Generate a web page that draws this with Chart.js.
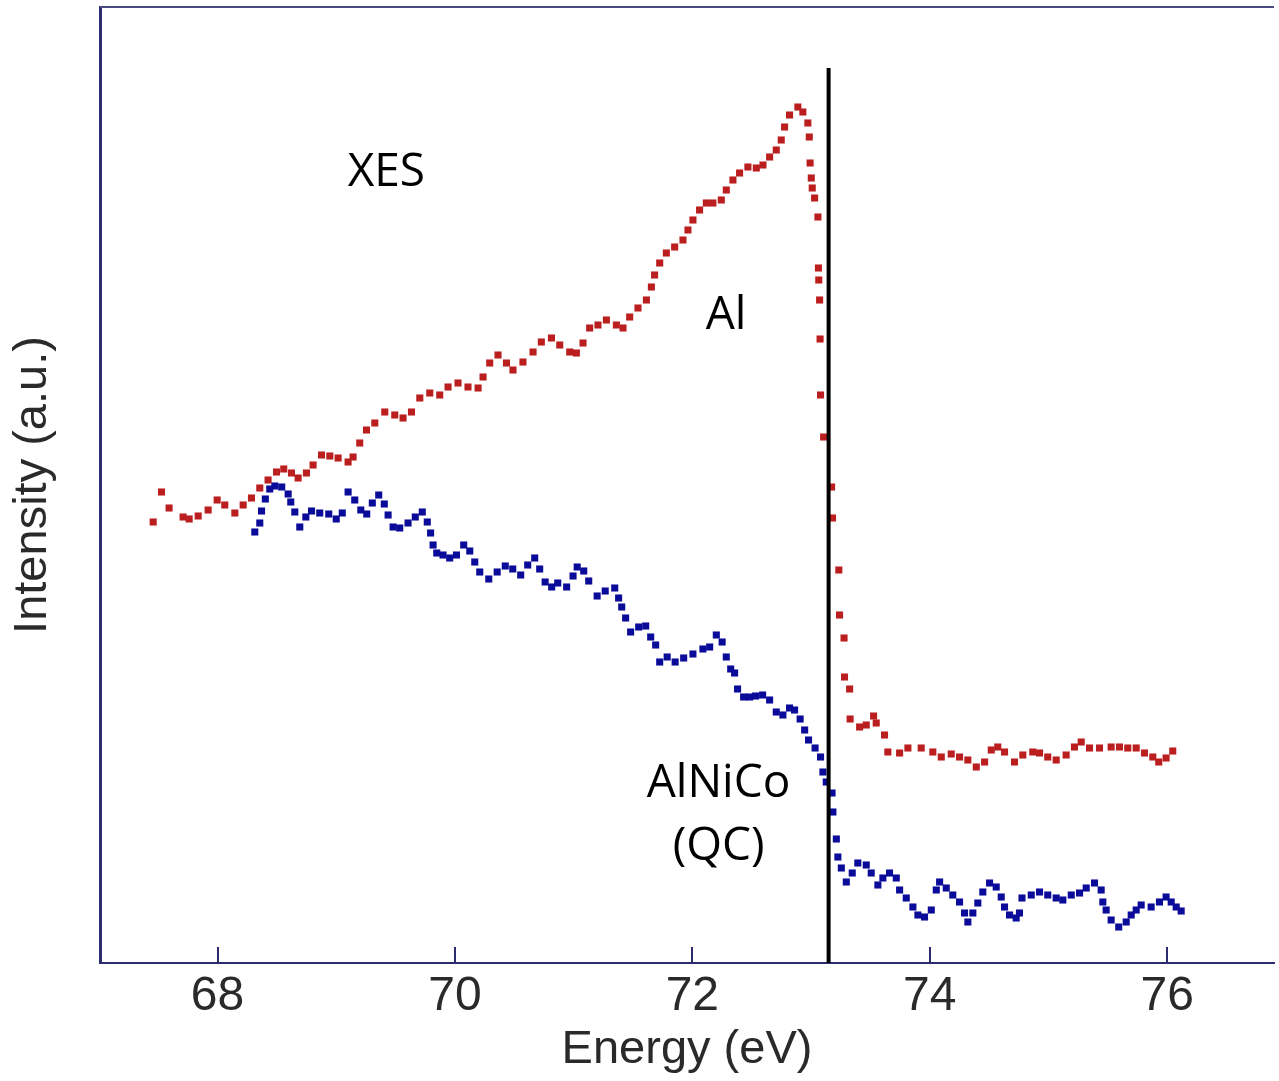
<!DOCTYPE html>
<html>
<head>
<meta charset="utf-8">
<script src="https://cdn.jsdelivr.net/npm/chart.js@4.4.1/dist/chart.umd.min.js"></script>
<style>
  html, body { margin: 0; padding: 0; background: #fff; }
  #wrap { width: 1279px; height: 1081px; }
</style>
</head>
<body>
<div id="wrap"><canvas id="xes" width="1279" height="1081"></canvas></div>
<script>
// Al XES (red) and AlNiCo QC (blue), energy in eV, intensity in a.u.
const alEnergy = [
  67.458, 67.528, 67.592, 67.710, 67.761, 67.837, 67.921, 67.997, 68.061, 68.146,
  68.216, 68.286, 68.356, 68.426, 68.497, 68.558, 68.623, 68.679, 68.749, 68.805,
  68.876, 68.946, 69.016, 69.100, 69.142, 69.198, 69.255, 69.325, 69.409, 69.493,
  69.563, 69.634, 69.704, 69.788, 69.872, 69.942, 70.026, 70.110, 70.195, 70.237,
  70.293, 70.363, 70.434, 70.489, 70.573, 70.658, 70.728, 70.813, 70.883, 70.967,
  71.023, 71.079, 71.135, 71.205, 71.276, 71.360, 71.416, 71.472, 71.542, 71.613,
  71.655, 71.682, 71.725, 71.781, 71.851, 71.921, 71.963, 72.005, 72.061, 72.118,
  72.173, 72.244, 72.286, 72.342, 72.398, 72.468, 72.539, 72.595, 72.651, 72.707,
  72.749, 72.777, 72.819, 72.889, 72.931, 72.973, 72.985, 72.992, 73.002, 73.010,
  73.030, 73.058, 73.062, 73.065, 73.072, 73.076, 73.080, 73.106, 73.173, 73.181,
  73.234, 73.240, 73.278, 73.282, 73.325, 73.329, 73.409, 73.465, 73.527, 73.549,
  73.619, 73.647, 73.746, 73.816, 73.928, 74.026, 74.097, 74.181, 74.251, 74.321,
  74.392, 74.462, 74.518, 74.573, 74.630, 74.714, 74.784, 74.868, 74.925, 74.994,
  75.065, 75.149, 75.219, 75.276, 75.346, 75.430, 75.528, 75.598, 75.668, 75.739,
  75.809, 75.879, 75.929, 75.991, 76.047
];
const alIntensity = [
  44.1, 47.1, 45.5, 44.6, 44.4, 44.7, 45.3, 46.3, 45.8, 45.0,
  45.8, 46.5, 47.5, 48.3, 49.1, 49.4, 49.0, 48.5, 49.0, 49.8,
  50.8, 50.7, 50.5, 50.1, 50.6, 52.0, 53.3, 54.0, 55.1, 54.8,
  54.5, 55.1, 56.5, 57.0, 56.8, 57.6, 58.0, 57.6, 57.5, 58.6,
  60.0, 60.8, 60.0, 59.3, 60.1, 61.1, 62.1, 62.5, 61.8, 61.1,
  61.0, 62.0, 63.5, 63.8, 64.3, 63.8, 63.5, 64.6, 65.5, 66.3,
  67.6, 68.8, 70.0, 71.0, 71.6, 72.3, 73.3, 74.3, 75.3, 76.0,
  76.0, 76.3, 77.3, 78.3, 79.0, 79.6, 79.5, 79.8, 80.6, 81.3,
  82.3, 83.6, 84.8, 85.6, 85.1, 84.0, 82.6, 80.0, 78.5, 77.5,
  76.5, 74.6, 69.5, 68.3, 66.3, 62.4, 56.8, 52.6, 47.6, 44.5,
  39.3, 34.8, 32.5, 28.6, 27.4, 24.4, 23.6, 23.8, 24.7, 24.0,
  22.8, 21.1, 21.0, 21.5, 21.5, 21.1, 20.6, 20.9, 20.6, 20.3,
  19.6, 20.1, 21.3, 21.6, 21.1, 20.1, 20.8, 21.1, 21.0, 20.6,
  20.3, 20.8, 21.6, 22.1, 21.5, 21.5, 21.6, 21.6, 21.5, 21.5,
  21.0, 20.6, 20.1, 20.5, 21.2
];
const qcEnergy = [
  68.314, 68.356, 68.371, 68.403, 68.440, 68.483, 68.541, 68.595, 68.617, 68.651,
  68.693, 68.744, 68.792, 68.861, 68.937, 69.000, 69.051, 69.100, 69.156, 69.207,
  69.257, 69.304, 69.358, 69.405, 69.437, 69.479, 69.535, 69.605, 69.666, 69.725,
  69.767, 69.795, 69.816, 69.847, 69.900, 69.956, 70.013, 70.074, 70.125, 70.167,
  70.209, 70.285, 70.356, 70.424, 70.487, 70.554, 70.613, 70.672, 70.714, 70.760,
  70.815, 70.866, 70.941, 70.995, 71.030, 71.085, 71.127, 71.198, 71.266, 71.346,
  71.379, 71.405, 71.438, 71.480, 71.548, 71.607, 71.649, 71.691, 71.725, 71.788,
  71.855, 71.927, 72.005, 72.089, 72.146, 72.202, 72.251, 72.286, 72.323, 72.356,
  72.381, 72.432, 72.483, 72.533, 72.592, 72.651, 72.707, 72.763, 72.819, 72.861,
  72.908, 72.946, 72.979, 73.034, 73.080, 73.100, 73.128, 73.177, 73.184, 73.213,
  73.226, 73.255, 73.297, 73.347, 73.394, 73.465, 73.507, 73.563, 73.605, 73.661,
  73.718, 73.746, 73.802, 73.858, 73.900, 73.956, 74.013, 74.055, 74.083, 74.139,
  74.194, 74.251, 74.293, 74.321, 74.363, 74.405, 74.447, 74.504, 74.560, 74.602,
  74.630, 74.672, 74.728, 74.756, 74.777, 74.855, 74.925, 74.994, 75.065, 75.121,
  75.192, 75.262, 75.318, 75.388, 75.444, 75.458, 75.486, 75.528, 75.592, 75.655,
  75.697, 75.739, 75.781, 75.865, 75.935, 75.991, 76.034, 76.076, 76.118
];
const qcIntensity = [
  43.1, 44.0, 45.2, 46.4, 47.4, 47.7, 47.6, 46.9, 46.1, 45.1,
  43.6, 44.6, 45.2, 45.0, 44.9, 44.4, 45.0, 47.1, 46.3, 45.3,
  44.9, 46.0, 46.8, 45.9, 44.8, 43.6, 43.5, 44.0, 44.6, 45.1,
  44.1, 43.0, 41.8, 41.0, 40.8, 40.5, 40.8, 41.8, 41.2, 40.1,
  39.1, 38.4, 39.1, 39.7, 39.4, 38.8, 39.8, 40.5, 39.4, 38.1,
  37.6, 38.0, 37.6, 38.7, 39.6, 39.2, 38.2, 36.7, 37.2, 37.5,
  36.5, 35.6, 34.5, 33.1, 33.6, 33.7, 32.6, 31.8, 30.1, 30.6,
  30.1, 30.5, 30.9, 31.4, 31.6, 32.8, 32.1, 30.6, 29.4, 29.0,
  27.4, 26.6, 26.6, 26.7, 26.8, 26.3, 25.1, 24.8, 25.5, 25.3,
  24.4, 23.3, 22.3, 21.5, 20.6, 19.1, 18.1, 17.0, 15.1, 12.4,
  10.6, 9.5, 8.1, 9.0, 10.0, 9.8, 9.0, 7.8, 8.5, 9.0,
  8.5, 7.3, 6.5, 5.6, 4.8, 4.6, 5.3, 7.3, 8.1, 7.5,
  6.8, 6.1, 5.0, 4.1, 5.0, 6.0, 7.1, 8.0, 7.6, 6.6,
  5.6, 4.8, 4.5, 5.0, 6.5, 6.8, 7.1, 6.8, 6.5, 6.3,
  6.8, 7.0, 7.5, 8.0, 7.3, 6.1, 5.3, 4.3, 3.6, 4.1,
  4.8, 5.3, 5.8, 5.6, 6.1, 6.6, 6.1, 5.6, 5.2
];
const xTicks = [68, 70, 72, 74, 76];

// Fermi edge marker and text labels (data units)
const edgeEnergy = 73.148;
const edgeTop = 89.5;
const labels = [
  { text: "XES", x: 69.097, y: 77.7, align: "left" },
  { text: "Al", x: 72.112, y: 63.4, align: "left" },
  { text: "AlNiCo", x: 72.221, y: 16.6, align: "center" },
  { text: "(QC)", x: 72.221, y: 10.3, align: "center" }
];

const axisColor = "#2c2c6e";
const textColor = "#2a2a2a";

function toPoints(xs, ys) {
  return xs.map((x, i) => ({ x: x, y: ys[i] }));
}

// tick marks inside the frame, top border, edge line and labels
const decor = {
  id: "decor",
  afterDatasetsDraw(chart) {
    const { ctx, chartArea, scales } = chart;
    const xs = scales.x, ys = scales.y;
    ctx.save();

    ctx.strokeStyle = "#4a4a7c";
    ctx.lineWidth = 2;
    ctx.beginPath();
    ctx.moveTo(chartArea.left, chartArea.top);
    ctx.lineTo(chartArea.right, chartArea.top);
    ctx.stroke();

    ctx.strokeStyle = axisColor;
    ctx.lineWidth = 2;
    xTicks.forEach((t) => {
      const px = Math.round(xs.getPixelForValue(t));
      ctx.beginPath();
      ctx.moveTo(px, chartArea.bottom);
      ctx.lineTo(px, chartArea.bottom - 16);
      ctx.stroke();
    });

    const ex = xs.getPixelForValue(edgeEnergy);
    ctx.strokeStyle = "#000";
    ctx.lineWidth = 4;
    ctx.beginPath();
    ctx.moveTo(ex, ys.getPixelForValue(edgeTop));
    ctx.lineTo(ex, chartArea.bottom);
    ctx.stroke();

    ctx.fillStyle = "#000";
    ctx.font = '46px "Open Sans", "Noto Sans", sans-serif';
    ctx.textBaseline = "alphabetic";
    labels.forEach((l) => {
      ctx.textAlign = l.align;
      ctx.fillText(l.text, xs.getPixelForValue(l.x), ys.getPixelForValue(l.y));
    });
    ctx.restore();
  }
};

new Chart(document.getElementById("xes"), {
  type: "scatter",
  data: {
    datasets: [
      {
        label: "Al",
        data: toPoints(alEnergy, alIntensity),
        pointStyle: "rect",
        pointRadius: 5,
        pointBorderWidth: 0,
        backgroundColor: "#bb1e1e",
        borderColor: "#bb1e1e",
        showLine: false,
        order: 1
      },
      {
        label: "AlNiCo (QC)",
        data: toPoints(qcEnergy, qcIntensity),
        pointStyle: "rect",
        pointRadius: 5,
        pointBorderWidth: 0,
        backgroundColor: "#0b0b9a",
        borderColor: "#0b0b9a",
        showLine: false,
        order: 0
      }
    ]
  },
  options: {
    responsive: false,
    animation: false,
    devicePixelRatio: 1,
    layout: { padding: { top: 7, left: 0, right: 0, bottom: 0 } },
    plugins: {
      legend: { display: false },
      tooltip: { enabled: false }
    },
    scales: {
      x: {
        type: "linear",
        min: 67.01,
        max: 76.9,
        afterBuildTicks: (scale) => {
          scale.ticks = xTicks.map((v) => ({ value: v }));
        },
        afterFit: (scale) => {
          scale.height = 118;
        },
        grid: { display: false, drawTicks: false },
        border: { display: true, color: axisColor, width: 2 },
        ticks: {
          color: textColor,
          padding: 5,
          maxRotation: 0,
          font: { family: '"Liberation Sans", Arial, sans-serif', size: 48 }
        },
        title: {
          display: true,
          text: "Energy (eV)",
          color: textColor,
          padding: { top: 0, bottom: 3 },
          font: { family: '"Liberation Sans", Arial, sans-serif', size: 47 }
        }
      },
      y: {
        type: "linear",
        min: 0,
        max: 95.6,
        afterFit: (scale) => {
          scale.width = 100;
        },
        grid: { display: false, drawTicks: false },
        border: { display: true, color: axisColor, width: 3 },
        ticks: { display: false },
        title: {
          display: true,
          text: "Intensity (a.u.)",
          color: textColor,
          padding: { top: 5, bottom: 0 },
          font: { family: '"Liberation Sans", Arial, sans-serif', size: 47 }
        }
      }
    }
  },
  plugins: [decor]
});
</script>
</body>
</html>
